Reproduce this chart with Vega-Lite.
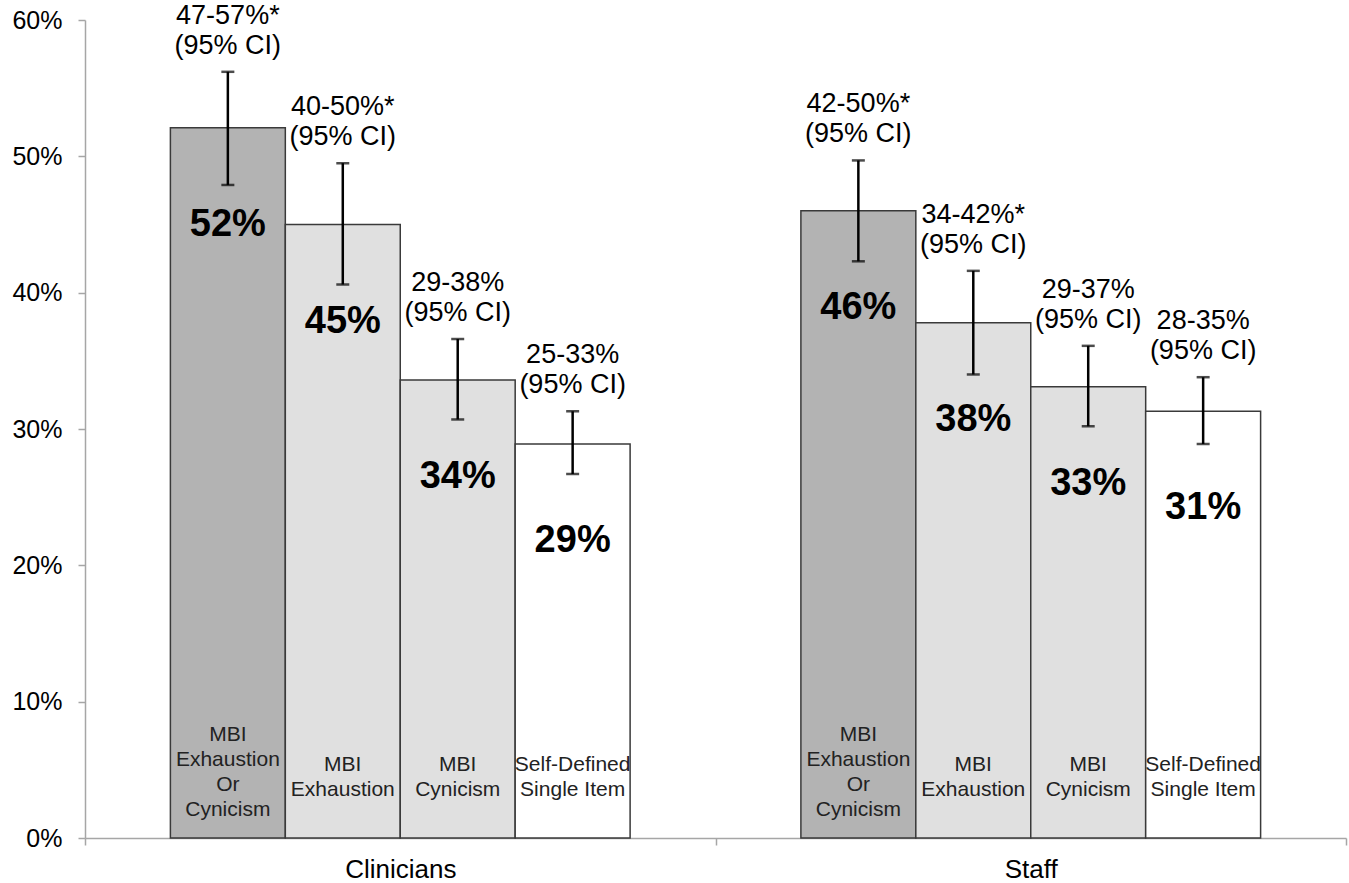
{
  "$schema": "https://vega.github.io/schema/vega-lite/v6.json",
  "autosize": {"type": "none"},
  "width": 1261,
  "height": 818,
  "padding": {"left": 85, "top": 20, "right": 3, "bottom": 45},
  "background": "white",
  "config": {
    "view": {"stroke": null},
    "font": "Liberation Sans",
    "text": {"font": "Liberation Sans"}
  },
  "data": {
    "values": [
      {"group": "Clinicians", "measure": "m1", "b1": "Cynicism", "b2": "Or", "b3": "Exhaustion", "b4": "MBI", "t1": "", "t2": "", "value": 52.1, "lo": 47.9, "hi": 56.2, "c1": "47-57%*", "c2": "(95% CI)", "pct": "52%"},
      {"group": "Clinicians", "measure": "m2", "b1": "", "b2": "", "b3": "", "b4": "", "t1": "Exhaustion", "t2": "MBI", "value": 45.0, "lo": 40.6, "hi": 49.5, "c1": "40-50%*", "c2": "(95% CI)", "pct": "45%"},
      {"group": "Clinicians", "measure": "m3", "b1": "", "b2": "", "b3": "", "b4": "", "t1": "Cynicism", "t2": "MBI", "value": 33.6, "lo": 30.7, "hi": 36.6, "c1": "29-38%", "c2": "(95% CI)", "pct": "34%"},
      {"group": "Clinicians", "measure": "m4", "b1": "", "b2": "", "b3": "", "b4": "", "t1": "Single Item", "t2": "Self-Defined", "value": 28.9, "lo": 26.7, "hi": 31.3, "c1": "25-33%", "c2": "(95% CI)", "pct": "29%"},
      {"group": "Staff", "measure": "m1", "b1": "Cynicism", "b2": "Or", "b3": "Exhaustion", "b4": "MBI", "t1": "", "t2": "", "value": 46.0, "lo": 42.3, "hi": 49.7, "c1": "42-50%*", "c2": "(95% CI)", "pct": "46%"},
      {"group": "Staff", "measure": "m2", "b1": "", "b2": "", "b3": "", "b4": "", "t1": "Exhaustion", "t2": "MBI", "value": 37.8, "lo": 34.0, "hi": 41.6, "c1": "34-42%*", "c2": "(95% CI)", "pct": "38%"},
      {"group": "Staff", "measure": "m3", "b1": "", "b2": "", "b3": "", "b4": "", "t1": "Cynicism", "t2": "MBI", "value": 33.1, "lo": 30.2, "hi": 36.1, "c1": "29-37%", "c2": "(95% CI)", "pct": "33%"},
      {"group": "Staff", "measure": "m4", "b1": "", "b2": "", "b3": "", "b4": "", "t1": "Single Item", "t2": "Self-Defined", "value": 31.3, "lo": 28.9, "hi": 33.8, "c1": "28-35%", "c2": "(95% CI)", "pct": "31%"}
    ]
  },
  "encoding": {
    "x": {
      "field": "group", "type": "nominal", "title": null,
      "scale": {"paddingInner": 0, "paddingOuter": 0},
      "axis": {
        "labelAngle": 0, "labelFontSize": 26, "labelColor": "black", "labelPadding": 11,
        "domainColor": "#a6a6a6", "domainWidth": 1.5, "tickColor": "#a6a6a6", "tickWidth": 1.5,
        "tickSize": 7, "tickBand": "extent"
      }
    },
    "xOffset": {
      "field": "measure", "type": "nominal",
      "scale": {"paddingInner": 0, "paddingOuter": 0.743}
    }
  },
  "layer": [
    {
      "mark": {"type": "bar", "stroke": "#3a3a3a", "strokeWidth": 1.5},
      "encoding": {
        "y": {
          "field": "value", "type": "quantitative", "title": null,
          "scale": {"domain": [0, 60]},
          "axis": {
            "values": [0, 10, 20, 30, 40, 50, 60], "grid": false,
            "labelExpr": "datum.value + '%'", "labelFontSize": 25, "labelColor": "black",
            "labelPadding": 16, "tickSize": 7, "tickColor": "#a6a6a6", "tickWidth": 1.5,
            "domainColor": "#a6a6a6", "domainWidth": 1.5
          }
        },
        "fill": {
          "field": "measure", "type": "nominal", "legend": null,
          "scale": {"domain": ["m1", "m2", "m3", "m4"], "range": ["#b3b3b3", "#e0e0e0", "#e0e0e0", "#ffffff"]}
        }
      }
    },
    {
      "mark": {"type": "text", "baseline": "middle", "align": "center", "fontSize": 21, "dy": -28, "color": "#222"},
      "encoding": {"y": {"datum": 0, "type": "quantitative"}, "text": {"field": "b1"}}
    },
    {
      "mark": {"type": "text", "baseline": "middle", "align": "center", "fontSize": 21, "dy": -53, "color": "#222"},
      "encoding": {"y": {"datum": 0, "type": "quantitative"}, "text": {"field": "b2"}}
    },
    {
      "mark": {"type": "text", "baseline": "middle", "align": "center", "fontSize": 21, "dy": -78, "color": "#222"},
      "encoding": {"y": {"datum": 0, "type": "quantitative"}, "text": {"field": "b3"}}
    },
    {
      "mark": {"type": "text", "baseline": "middle", "align": "center", "fontSize": 21, "dy": -103, "color": "#222"},
      "encoding": {"y": {"datum": 0, "type": "quantitative"}, "text": {"field": "b4"}}
    },
    {
      "mark": {"type": "text", "baseline": "middle", "align": "center", "fontSize": 21, "dy": -48, "color": "#222"},
      "encoding": {"y": {"datum": 0, "type": "quantitative"}, "text": {"field": "t1"}}
    },
    {
      "mark": {"type": "text", "baseline": "middle", "align": "center", "fontSize": 21, "dy": -73, "color": "#222"},
      "encoding": {"y": {"datum": 0, "type": "quantitative"}, "text": {"field": "t2"}}
    },
    {
      "mark": {"type": "text", "baseline": "middle", "align": "center", "fontSize": 38, "fontWeight": "bold", "dy": 97, "color": "black"},
      "encoding": {
        "y": {"field": "value", "type": "quantitative"},
        "text": {"field": "pct"}
      }
    },
    {
      "mark": {"type": "rule", "color": "black", "strokeWidth": 2.5},
      "encoding": {
        "y": {"field": "lo", "type": "quantitative"},
        "y2": {"field": "hi"}
      }
    },
    {
      "mark": {"type": "tick", "color": "black", "size": 13, "thickness": 2.5},
      "encoding": {"y": {"field": "lo", "type": "quantitative"}}
    },
    {
      "mark": {"type": "tick", "color": "black", "size": 13, "thickness": 2.5},
      "encoding": {"y": {"field": "hi", "type": "quantitative"}}
    },
    {
      "mark": {"type": "text", "baseline": "middle", "align": "center", "fontSize": 27, "dy": -26, "color": "black"},
      "encoding": {"y": {"field": "hi", "type": "quantitative"}, "text": {"field": "c2"}}
    },
    {
      "mark": {"type": "text", "baseline": "middle", "align": "center", "fontSize": 27, "dy": -56, "color": "black"},
      "encoding": {"y": {"field": "hi", "type": "quantitative"}, "text": {"field": "c1"}}
    }
  ]
}
